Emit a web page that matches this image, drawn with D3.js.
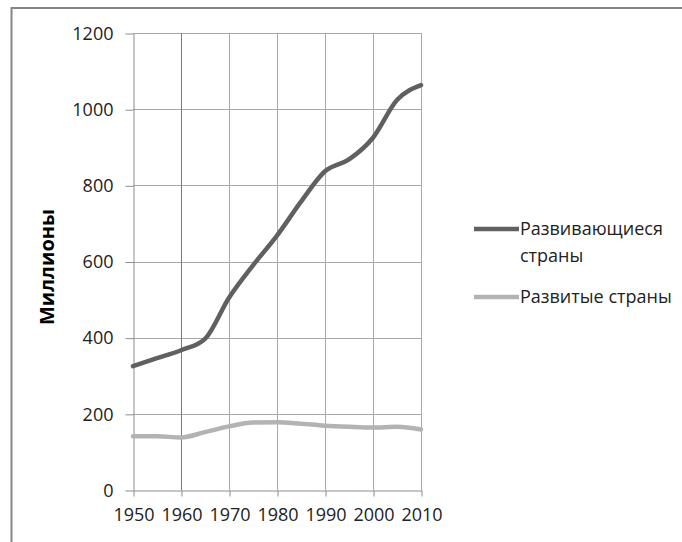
<!DOCTYPE html>
<html>
<head>
<meta charset="utf-8">
<script src="https://cdn.jsdelivr.net/npm/d3@7"></script>
<style>
  body { margin: 0; background: #fff; }
  svg text { font-family: "Open Sans", "DejaVu Sans", sans-serif; fill: #222; }
  .grid line { stroke: #a8a8a8; stroke-width: 1; }
  .axis path, .axis line { stroke: #8c8c8c; }
</style>
</head>
<body>
<svg id="chart" width="682" height="542"></svg>
<script>
// годы и значения (миллионы)
const years = [1950, 1955, 1960, 1965, 1970, 1975, 1980, 1985, 1990, 1995, 2000, 2005, 2010];
const developing = [325, 346, 367, 397, 505, 590, 668, 757, 837, 868, 925, 1024, 1063];
const developed = [141, 141, 138, 152, 167, 177, 178, 174, 169, 166, 164, 166, 159];
const yTicks = [0, 200, 400, 600, 800, 1000, 1200];
const xTicks = [1950, 1960, 1970, 1980, 1990, 2000, 2010];
const seriesNames = ['Развивающиеся страны', 'Развитые страны'];
const seriesColors = ['#606060', '#b3b3b3'];

const svg = d3.select('#chart');

// рамка (видны только верх и левая сторона)
svg.append('path')
  .attr('d', 'M11.5,542 V8 H682')
  .attr('fill', 'none')
  .attr('stroke', '#858585')
  .attr('stroke-width', 2);

const plotLeft = 133, plotRight = 421, plotTop = 33, plotBottom = 490;

const x = d3.scaleLinear().domain([1950, 2010]).range([plotLeft, plotRight]);
const y = d3.scaleLinear().domain([0, 1200]).range([plotBottom, plotTop]);

// сетка
const grid = svg.append('g').attr('class', 'grid');
grid.selectAll('.h')
  .data(yTicks.filter(d => d > 0))
  .enter()
  .append('line')
  .attr('x1', plotLeft).attr('x2', plotRight)
  .attr('y1', d => Math.round(y(d)) + 0.5)
  .attr('y2', d => Math.round(y(d)) + 0.5);
grid.selectAll('.v')
  .data(xTicks.filter(d => d > 1950))
  .enter()
  .append('line')
  .attr('x1', d => Math.round(x(d)) + 0.5)
  .attr('x2', d => Math.round(x(d)) + 0.5)
  .attr('y1', plotTop).attr('y2', plotBottom)
  .style('stroke', d => d === 1960 ? '#7a7a7a' : null);

// оси
svg.append('g')
  .attr('class', 'axis')
  .attr('transform', `translate(${plotLeft + 0.5}, 0.5)`)
  .call(d3.axisLeft(y).tickValues(yTicks).tickFormat(d3.format('d')).tickSize(8).tickSizeOuter(0).tickPadding(12));

svg.append('g')
  .attr('class', 'axis')
  .attr('transform', `translate(0.5, ${plotBottom + 0.5})`)
  .call(d3.axisBottom(x).tickValues(xTicks).tickFormat(d3.format('d')).tickSize(6).tickSizeOuter(0).tickPadding(12));

svg.selectAll('.axis text')
  .style('font-size', '18px')
  .style('fill', '#222');

// линии
const line = d3.line()
  .x((d, i) => x(years[i]))
  .y(d => y(d))
  .curve(d3.curveMonotoneX);

[developing, developed].forEach((values, i) => {
  svg.append('path')
    .datum(values)
    .attr('fill', 'none')
    .attr('stroke', seriesColors[i])
    .attr('stroke-width', 4.5)
    .attr('stroke-linecap', 'round')
    .attr('d', line);
});

// подпись оси
svg.append('text')
  .attr('transform', 'translate(54, 267) rotate(-90)')
  .attr('text-anchor', 'middle')
  .style('font-size', '20px')
  .style('font-weight', 'bold')
  .style('fill', '#000')
  .text('Миллионы');

// легенда
const legend = svg.append('g');
const legendRows = [
  { y: 229, lines: ['Развивающиеся', 'страны'] },
  { y: 297, lines: ['Развитые страны'] }
];
legendRows.forEach((r, i) => {
  legend.append('line')
    .attr('x1', 474).attr('x2', 519)
    .attr('y1', r.y).attr('y2', r.y)
    .attr('stroke', seriesColors[i])
    .attr('stroke-width', 4.5);
  r.lines.forEach((t, j) => {
    legend.append('text')
      .attr('x', 520)
      .attr('y', r.y + 6 + j * 27)
      .style('font-size', '18px')
      .text(t);
  });
});
</script>
</body>
</html>
